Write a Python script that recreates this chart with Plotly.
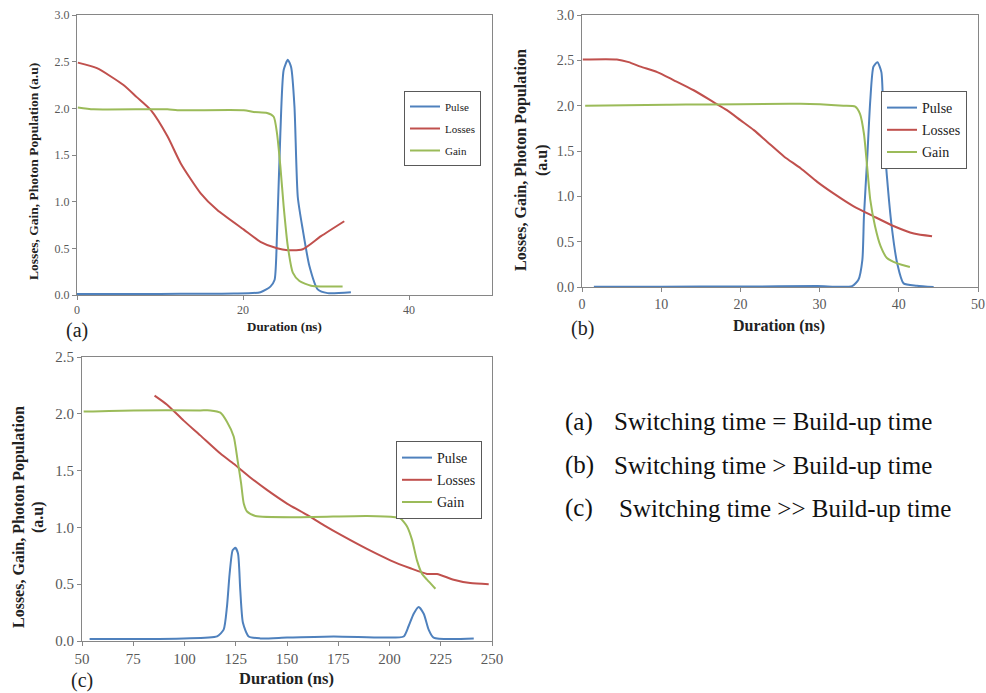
import plotly.graph_objects as go

# ---------------- data ----------------
# Panel (a)
a_pulse_x = [0.0, 5.0, 10.0, 15.0, 18.9, 22.1, 23.3, 23.8, 24.1, 24.5, 24.9, 25.4, 25.8, 26.2, 26.6, 27.2, 28.0, 29.0, 30.2, 33.0]
a_pulse_y = [0.01, 0.01, 0.012, 0.013, 0.015, 0.03, 0.09, 0.16, 0.66, 1.73, 2.41, 2.52, 2.44, 2.02, 1.05, 0.70, 0.31, 0.06, 0.02, 0.03]
a_loss_x = [0.1, 2.4, 5.6, 7.2, 8.9, 10.9, 12.5, 14.9, 16.9, 20.1, 22.1, 24.1, 25.4, 27.2, 29.4, 32.2]
a_loss_y = [2.49, 2.43, 2.25, 2.12, 1.98, 1.70, 1.41, 1.09, 0.91, 0.70, 0.57, 0.50, 0.48, 0.49, 0.63, 0.79]
a_gain_x = [0.1, 2.0, 10.9, 12.1, 20.1, 21.3, 22.9, 23.7, 24.1, 24.5, 24.9, 25.4, 26.0, 26.8, 28.2, 32.0]
a_gain_y = [2.01, 1.99, 1.99, 1.98, 1.98, 1.96, 1.95, 1.91, 1.73, 1.38, 0.95, 0.52, 0.24, 0.15, 0.10, 0.09]

# Panel (b)
b_pulse_x = [1.5, 10.0, 20.0, 29.7, 34.1, 34.9, 35.4, 35.6, 36.0, 36.4, 36.8, 37.3, 37.8, 38.1, 38.5, 39.1, 39.8, 40.6, 42.3, 44.4]
b_pulse_y = [0.003, 0.004, 0.005, 0.01, 0.01, 0.08, 0.30, 0.78, 1.40, 2.06, 2.43, 2.48, 2.37, 1.70, 1.22, 0.67, 0.26, 0.04, 0.015, 0.0]
b_loss_x = [0.1, 4.4, 5.9, 7.4, 9.5, 11.6, 14.1, 16.6, 18.3, 20.0, 21.7, 23.4, 25.5, 27.6, 29.7, 31.8, 34.3, 36.8, 39.4, 41.9, 44.2]
b_loss_y = [2.51, 2.51, 2.48, 2.43, 2.37, 2.28, 2.17, 2.04, 1.95, 1.84, 1.73, 1.60, 1.44, 1.31, 1.16, 1.03, 0.89, 0.78, 0.67, 0.59, 0.56]
b_gain_x = [0.4, 10.7, 27.6, 33.0, 34.5, 35.1, 35.6, 36.0, 36.4, 37.0, 37.7, 38.5, 39.8, 41.4]
b_gain_y = [2.00, 2.01, 2.02, 2.00, 1.99, 1.91, 1.69, 1.33, 0.96, 0.67, 0.45, 0.32, 0.26, 0.22]

# Panel (c)
c_pulse_x = [53.7, 75.0, 99.6, 115.9, 119.1, 120.7, 122.0, 123.5, 124.8, 126.1, 127.2, 128.5, 131.3, 137.0, 150.0, 172.8, 197.2, 206.9, 209.3, 211.8, 214.2, 216.7, 219.1, 221.5, 241.1]
c_pulse_y = [0.018, 0.018, 0.023, 0.04, 0.10, 0.30, 0.59, 0.80, 0.82, 0.77, 0.45, 0.16, 0.04, 0.023, 0.03, 0.04, 0.03, 0.04, 0.13, 0.24, 0.30, 0.24, 0.10, 0.03, 0.023]
c_loss_x = [85.4, 91.5, 99.6, 107.7, 117.5, 124.0, 132.1, 140.2, 150.0, 159.8, 167.9, 177.6, 189.0, 200.4, 210.2, 218.3, 223.2, 231.3, 239.4, 248.4]
c_loss_y = [2.16, 2.08, 1.94, 1.81, 1.65, 1.56, 1.44, 1.33, 1.21, 1.11, 1.02, 0.92, 0.81, 0.71, 0.64, 0.59, 0.59, 0.54, 0.51, 0.50]
c_gain_x = [50.8, 75.2, 107.7, 112.6, 117.5, 120.7, 124.0, 125.9, 127.6, 128.9, 130.5, 134.6, 156.5, 189.0, 202.8, 205.3, 208.5, 211.0, 213.4, 215.9, 218.3, 222.4]
c_gain_y = [2.02, 2.03, 2.03, 2.03, 2.01, 1.93, 1.80, 1.59, 1.39, 1.21, 1.14, 1.10, 1.09, 1.10, 1.09, 1.08, 1.01, 0.89, 0.71, 0.59, 0.54, 0.46]

series_names = ["Pulse", "Losses", "Gain"]
series_colors = ["#4F81BD", "#C0504D", "#9BBB59"]

panel_labels = ["(a)", "(b)", "(c)"]
x_title = "Duration (ns)"
y_title_1 = "Losses, Gain, Photon Population (a.u)"
y_title_2a = "Losses, Gain, Photon Population"
y_title_2b = "(a.u)"
desc_labels = ["(a)", "(b)", "(c)"]
desc_texts = ["Switching time = Build-up time",
              "Switching time > Build-up time",
              "Switching time >> Build-up time"]

# ---------------- figure ----------------
W, H = 986, 693
SERIF = "Liberation Serif, Times New Roman, serif"
AX = "#868686"
TICKC = "#595959"


def px_x(p):
    return p / W


def px_y(p):
    return 1 - p / H


fig = go.Figure()

panels = [
    (a_pulse_x, a_pulse_y, a_loss_x, a_loss_y, a_gain_x, a_gain_y),
    (b_pulse_x, b_pulse_y, b_loss_x, b_loss_y, b_gain_x, b_gain_y),
    (c_pulse_x, c_pulse_y, c_loss_x, c_loss_y, c_gain_x, c_gain_y),
]
legends = ["legend", "legend2", "legend3"]
for i, (px_, py_, lx, ly, gx, gy) in enumerate(panels):
    xa = "x" if i == 0 else f"x{i+1}"
    ya = "y" if i == 0 else f"y{i+1}"
    for name, col, xs, ys in zip(series_names, series_colors,
                                 [px_, lx, gx], [py_, ly, gy]):
        fig.add_trace(go.Scatter(x=xs, y=ys, mode="lines", name=name,
                                 legendgroup=f"{name}{i}",
                                 line=dict(color=col, width=2, shape="spline", smoothing=0.6),
                                 xaxis=xa, yaxis=ya, legend=legends[i]))


def axis_common(size):
    return dict(showline=True, mirror=True, linecolor=AX, linewidth=1,
                ticks="outside", ticklen=4, tickcolor=AX, showgrid=False,
                zeroline=False, automargin=False,
                tickfont=dict(family=SERIF, size=size, color=TICKC))


# panel rectangles (pixels): left, right, top, bottom
rects = [(77, 492, 15, 295), (582, 978, 15, 287), (82, 492, 357, 641)]
xr = [[0, 50], [0, 50], [50, 250]]
yr = [[0, 3.0], [0, 3.0], [0, 2.5]]
xdt = [20, 10, 25]
tsize = [12, 14, 15]

layout = dict(width=W, height=H, margin=dict(l=0, r=0, t=0, b=0),
              paper_bgcolor="white", plot_bgcolor="white", template="none")
for i, (l, r, t, b) in enumerate(rects):
    xk = "xaxis" if i == 0 else f"xaxis{i+1}"
    yk = "yaxis" if i == 0 else f"yaxis{i+1}"
    ya = "y" if i == 0 else f"y{i+1}"
    xa = "x" if i == 0 else f"x{i+1}"
    layout[xk] = dict(domain=[px_x(l), px_x(r)], range=xr[i], dtick=xdt[i],
                      tick0=0, anchor=ya, **axis_common(tsize[i]))
    layout[yk] = dict(domain=[px_y(b), px_y(t)], range=yr[i], dtick=0.5,
                      tickformat=".1f", anchor=xa, **axis_common(tsize[i]))

# right edge, top edge, font size, group gap
leg_pos = [(481, 91, 11, 3), (967, 91, 14, 1), (482, 441, 14, 1)]
for i, (lx, ly, fs, gap) in enumerate(leg_pos):
    layout[legends[i]] = dict(x=px_x(lx), y=px_y(ly), xanchor="right", yanchor="top",
                              bgcolor="white", bordercolor="#595959", borderwidth=1,
                              font=dict(family=SERIF, size=fs, color="#222222"),
                              itemwidth=30, tracegroupgap=gap)

fig.update_layout(**layout)

ann = []
# x axis titles
for (cx, cy, fs) in [(284, 326, 13), (779, 326, 16), (286, 678, 16.5)]:
    ann.append(dict(x=px_x(cx), y=px_y(cy), xref="paper", yref="paper",
                    text=f"<b>{x_title}</b>", showarrow=False,
                    font=dict(family=SERIF, size=fs, color="#222222"),
                    xanchor="center", yanchor="middle"))
# y axis titles
ann.append(dict(x=px_x(33), y=px_y(172), xref="paper", yref="paper",
                text=f"<b>{y_title_1}</b>", showarrow=False, textangle=-90,
                font=dict(family=SERIF, size=13.5, color="#222222"),
                xanchor="center", yanchor="middle"))
for (x1, x2, cy) in [(521, 542, 160), (19, 38, 517)]:
    ann.append(dict(x=px_x(x1), y=px_y(cy), xref="paper", yref="paper",
                    text=f"<b>{y_title_2a}</b>", showarrow=False, textangle=-90,
                    font=dict(family=SERIF, size=16, color="#222222"),
                    xanchor="center", yanchor="middle"))
    ann.append(dict(x=px_x(x2), y=px_y(cy), xref="paper", yref="paper",
                    text=f"<b>{y_title_2b}</b>", showarrow=False, textangle=-90,
                    font=dict(family=SERIF, size=16, color="#222222"),
                    xanchor="center", yanchor="middle"))
# panel letters
for lab, (cx, cy) in zip(panel_labels, [(77, 330), (582, 329), (82, 680)]):
    ann.append(dict(x=px_x(cx), y=px_y(cy), xref="paper", yref="paper",
                    text=lab, showarrow=False,
                    font=dict(family=SERIF, size=20, color="#222222"),
                    xanchor="center", yanchor="middle"))
# description text
for lab, txt, tx, cy in zip(desc_labels, desc_texts, [612, 612, 617], [422, 465, 508]):
    ann.append(dict(x=px_x(563), y=px_y(cy), xref="paper", yref="paper",
                    text=lab, showarrow=False,
                    font=dict(family=SERIF, size=25, color="#111111"),
                    xanchor="left", yanchor="middle"))
    ann.append(dict(x=px_x(tx), y=px_y(cy), xref="paper", yref="paper",
                    text=txt, showarrow=False,
                    font=dict(family=SERIF, size=25, color="#111111"),
                    xanchor="left", yanchor="middle"))

fig.update_layout(annotations=ann)
fig.write_html("out.html", config={"displayModeBar": False},
               post_script="document.body.style.margin='0';document.body.style.overflow='hidden';")
